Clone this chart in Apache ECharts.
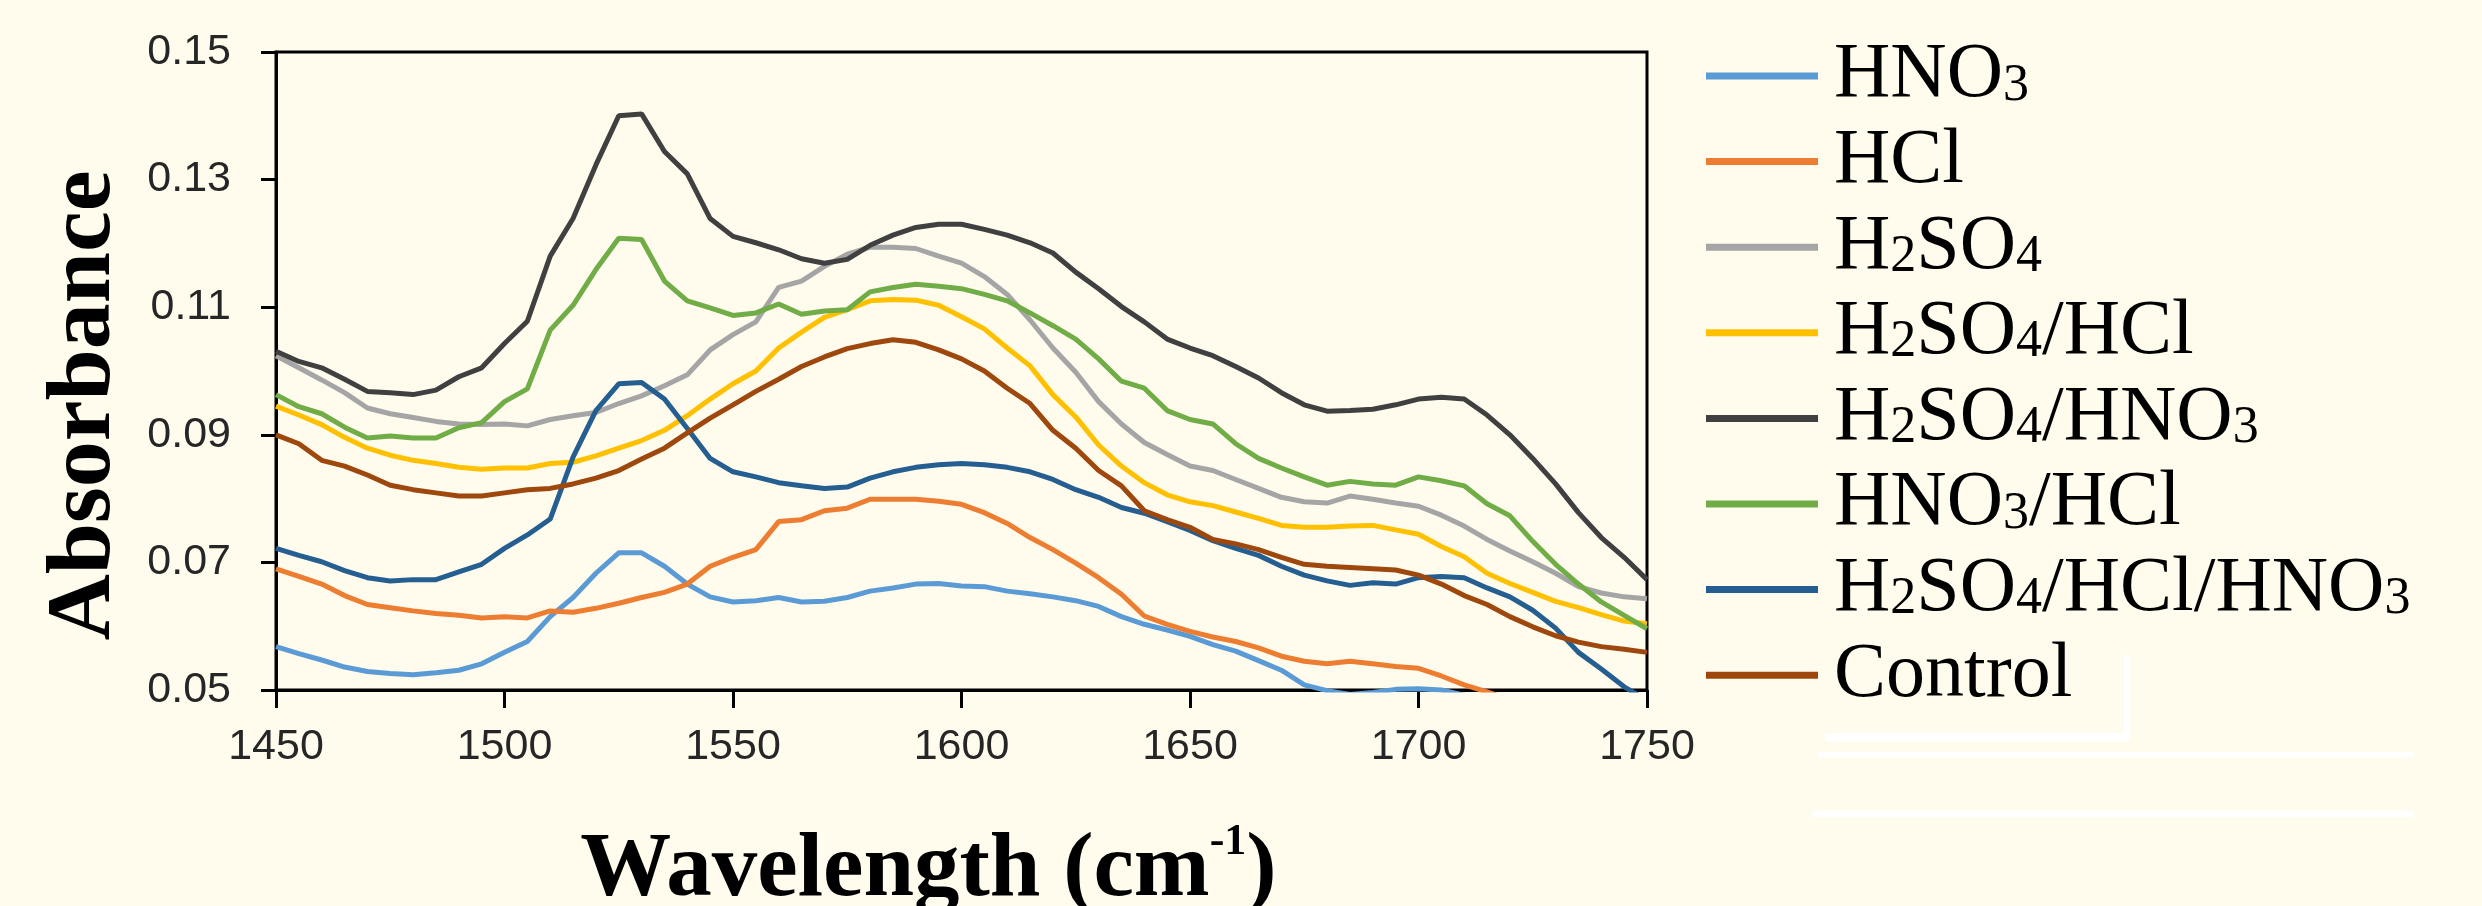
<!DOCTYPE html>
<html>
<head>
<meta charset="utf-8">
<title>Absorbance</title>
<script src="https://cdn.jsdelivr.net/npm/echarts@6.0.0/dist/echarts.min.js"></script>
<style>
  html, body { margin: 0; padding: 0; background: #FFFBED; }
  #main { width: 2482px; height: 906px; }
</style>
</head>
<body>
<div id="main"></div>
<script>
// wavenumber grid (cm-1)
var wavenumbers = [1450,1455,1460,1465,1470,1475,1480,1485,1490,1495,
  1500,1505,1510,1515,1520,1525,1530,1535,1540,1545,
  1550,1555,1560,1565,1570,1575,1580,1585,1590,1595,
  1600,1605,1610,1615,1620,1625,1630,1635,1640,1645,
  1650,1655,1660,1665,1670,1675,1680,1685,1690,1695,
  1700,1705,1710,1715,1720,1725,1730,1735,1740,1745,1750];

var seriesNames = ['HNO3', 'HCl', 'H2SO4', 'H2SO4/HCl', 'H2SO4/HNO3', 'HNO3/HCl', 'H2SO4/HCl/HNO3', 'Control'];
var seriesColors = ['#5B9BD5', '#ED7D31', '#A5A5A5', '#FFC000', '#404040', '#70AD47', '#255E91', '#9E480E'];

var hno3 = [.0568,.0557,.0547,.0536,.0529,.0526,.0524,.0527,.0531,.0541,
  .0559,.0576,.0615,.0645,.0683,.0715,.0715,.0694,.0666,.0646,
  .0638,.0640,.0645,.0638,.0639,.0645,.0655,.0660,.0666,.0667,
  .0663,.0662,.0655,.0651,.0646,.0640,.0631,.0615,.0603,.0594,
  .0584,.0571,.0561,.0546,.0531,.0508,.0499,.0493,.0496,.0501,
  .0502,.0500,.0492,.0480,.0468,.0458,.0448,.0440,.0433,.0427,.0420];

var hcl = [.0690,.0678,.0666,.0648,.0634,.0629,.0624,.0620,.0617,.0613,
  .0615,.0613,.0624,.0622,.0628,.0636,.0645,.0653,.0666,.0694,
  .0708,.0720,.0764,.0767,.0781,.0785,.0799,.0799,.0799,.0796,
  .0791,.0778,.0761,.0739,.0720,.0699,.0676,.0650,.0616,.0603,
  .0592,.0583,.0576,.0566,.0553,.0545,.0541,.0545,.0541,.0537,
  .0534,.0522,.0508,.0497,.0485,.0470,.0458,.0446,.0434,.0423,.0412];

var h2so4 = [.1024,.1005,.0986,.0966,.0942,.0933,.0927,.0921,.0917,.0916,
  .0917,.0914,.0924,.0930,.0935,.0949,.0961,.0977,.0994,.1033,
  .1057,.1077,.1131,.1141,.1164,.1183,.1194,.1194,.1192,.1180,
  .1169,.1148,.1120,.1080,.1036,.0998,.0952,.0917,.0888,.0869,
  .0851,.0844,.0830,.0816,.0802,.0795,.0793,.0804,.0799,.0793,
  .0788,.0774,.0757,.0736,.0718,.0701,.0683,.0662,.0652,.0646,.0643];

var h2so4Hcl = [.0945,.0931,.0916,.0896,.0879,.0868,.0860,.0855,.0849,.0846,
  .0848,.0848,.0855,.0857,.0867,.0879,.0891,.0907,.0930,.0956,
  .0980,.1000,.1036,.1061,.1084,.1096,.1110,.1112,.1111,.1103,
  .1085,.1066,.1036,.1008,.0963,.0928,.0884,.0851,.0825,.0806,
  .0795,.0789,.0779,.0769,.0758,.0755,.0755,.0757,.0758,.0751,
  .0744,.0725,.0709,.0683,.0667,.0653,.0639,.0629,.0618,.0608,.0604];

var h2so4Hno3 = [.1031,.1015,.1005,.0987,.0968,.0966,.0963,.0970,.0991,.1005,
  .1043,.1078,.1180,.1239,.1323,.1400,.1403,.1344,.1309,.1239,
  .1211,.1201,.1190,.1176,.1169,.1175,.1197,.1213,.1225,.1230,
  .1230,.1222,.1213,.1201,.1185,.1155,.1129,.1101,.1077,.1050,
  .1036,.1024,.1007,.0989,.0966,.0947,.0937,.0938,.0940,.0947,
  .0956,.0959,.0956,.0931,.0900,.0863,.0823,.0778,.0739,.0708,.0673];

var hno3Hcl = [.0963,.0944,.0933,.0912,.0895,.0898,.0895,.0895,.0911,.0919,
  .0952,.0972,.1064,.1103,.1159,.1208,.1206,.1141,.1110,.1099,
  .1087,.1091,.1105,.1089,.1094,.1096,.1124,.1131,.1136,.1133,
  .1129,.1120,.1110,.1091,.1071,.1050,.1019,.0984,.0973,.0938,
  .0924,.0917,.0886,.0863,.0848,.0834,.0821,.0827,.0823,.0821,
  .0834,.0828,.0820,.0792,.0773,.0733,.0697,.0666,.0638,.0617,.0596];

var mixAll = [.0722,.0711,.0701,.0687,.0676,.0671,.0673,.0673,.0685,.0697,
  .0722,.0743,.0768,.0865,.0938,.0980,.0982,.0956,.0910,.0863,
  .0842,.0834,.0825,.0820,.0816,.0818,.0832,.0842,.0849,.0853,
  .0855,.0853,.0849,.0842,.0830,.0814,.0802,.0786,.0777,.0764,
  .0750,.0734,.0722,.0711,.0694,.0680,.0671,.0664,.0668,.0666,
  .0676,.0678,.0676,.0660,.0646,.0625,.0597,.0559,.0533,.0505,.0484];

var control = [.0900,.0886,.0860,.0851,.0837,.0821,.0814,.0809,.0804,.0804,
  .0809,.0814,.0816,.0823,.0832,.0844,.0862,.0879,.0903,.0926,
  .0947,.0968,.0987,.1007,.1022,.1035,.1043,.1049,.1045,.1033,
  .1019,.1000,.0973,.0949,.0907,.0879,.0844,.0820,.0781,.0767,
  .0755,.0736,.0729,.0720,.0708,.0697,.0694,.0692,.0690,.0688,
  .0680,.0666,.0648,.0634,.0615,.0599,.0585,.0575,.0568,.0564,.0559];

var allValues = [hno3, hcl, h2so4, h2so4Hcl, h2so4Hno3, hno3Hcl, mixAll, control];

// subscript digits in chemical names
function richName(name) {
  var out = '';
  name.match(/\d+|[^\d]+/g).forEach(function (p) {
    out += /\d/.test(p) ? '{s|' + p + '}' : '{m|' + p + '}';
  });
  return out;
}

var myChart = echarts.init(document.getElementById('main'));

var series = seriesNames.map(function (name, i) {
  return {
    name: name,
    type: 'line',
    data: wavenumbers.map(function (w, j) { return [w, allValues[i][j]]; }),
    showSymbol: false,
    symbol: 'none',
    clip: true,
    lineStyle: { color: seriesColors[i], width: 5 },
    itemStyle: { color: seriesColors[i] }
  };
});

// one legend block per entry so that the rows keep an even pitch
var legendStep = 85.6;
var legends = seriesNames.map(function (name, i) {
  return {
    orient: 'vertical',
    left: 1706,
    top: 37 + i * legendStep,
    padding: 0,
    itemWidth: 112, itemHeight: 7,
    icon: 'rect',
    selectedMode: false,
    data: [name],
    formatter: richName,
    textStyle: {
      padding: [0, 0, 0, 11],
      rich: {
        m: { fontFamily: 'Liberation Serif', fontSize: 78, color: '#000', lineHeight: 72 },
        s: { fontFamily: 'Liberation Serif', fontSize: 52, color: '#000', lineHeight: 54, verticalAlign: 'bottom' }
      }
    }
  };
});

var option = {
  backgroundColor: '#FFFBED',
  animation: false,
  grid: {
    left: 276, right: 835, top: 52, bottom: 216,
    containLabel: false,
    outerBoundsMode: 'none',
    show: true, borderColor: '#000', borderWidth: 3, backgroundColor: 'transparent'
  },
  xAxis: {
    type: 'value',
    min: 1450, max: 1750, interval: 50,
    name: '{t|Wavelength (cm}{p|-1}{t|)}',
    nameLocation: 'middle',
    nameGap: 131,
    nameTextStyle: {
      padding: [0, 66, 0, 0],
      rich: {
        t: { fontFamily: 'Liberation Serif', fontWeight: 'bold', fontSize: 91, color: '#000', lineHeight: 100 },
        p: { fontFamily: 'Liberation Serif', fontWeight: 'bold', fontSize: 44, color: '#000', lineHeight: 44, verticalAlign: 'top' }
      }
    },
    axisLine: { onZero: false, lineStyle: { color: '#000', width: 3 } },
    axisTick: { length: 18, lineStyle: { color: '#000', width: 3 } },
    axisLabel: {
      margin: 36, fontFamily: 'Liberation Sans', fontSize: 43, color: '#262626',
      formatter: function (v) { return String(v); }
    },
    splitLine: { show: false }
  },
  yAxis: {
    type: 'value',
    min: 0.05, max: 0.15, interval: 0.02,
    name: 'Absorbance',
    nameLocation: 'middle',
    nameRotate: 90,
    nameGap: 141,
    nameTextStyle: {
      fontFamily: 'Liberation Serif', fontWeight: 'bold', fontSize: 92, color: '#000',
      lineHeight: 100, padding: [0, 69, 0, 0]
    },
    axisLine: { show: true, lineStyle: { color: '#000', width: 3 } },
    axisTick: { show: true, length: 15, lineStyle: { color: '#000', width: 3 } },
    axisLabel: {
      margin: 45, fontFamily: 'Liberation Sans', fontSize: 43, color: '#262626',
      formatter: function (v) { return v.toFixed(2); }
    },
    splitLine: { show: false }
  },
  legend: legends,
  // white streaks below the legend in the source image
  graphic: [
    { type: 'rect', shape: { x: 1825, y: 733, width: 305, height: 8 }, style: { fill: '#fff' } },
    { type: 'rect', shape: { x: 2124, y: 655, width: 6, height: 86 }, style: { fill: '#fff' } },
    { type: 'rect', shape: { x: 1818, y: 752, width: 596, height: 5 }, style: { fill: '#fff' } },
    { type: 'rect', shape: { x: 1812, y: 811, width: 602, height: 6 }, style: { fill: '#fff' } }
  ],
  series: series
};

myChart.setOption(option);
</script>
</body>
</html>
